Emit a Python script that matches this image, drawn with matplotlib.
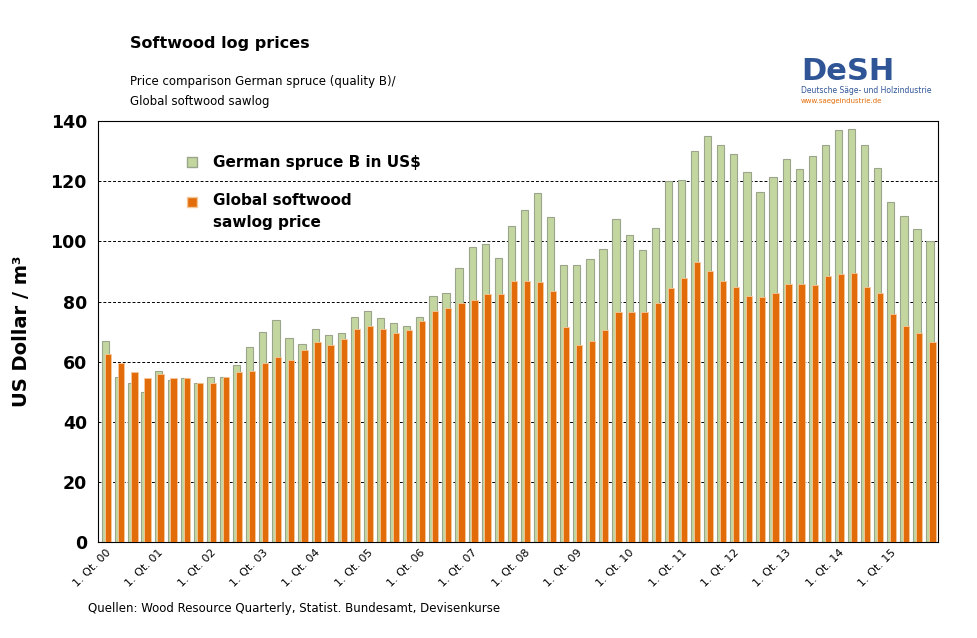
import matplotlib.pyplot as plt
import numpy as np

german = [67, 55, 53, 50, 57, 54, 54.5, 53, 55, 55, 59, 65, 70, 74, 68, 66,
          71, 69, 69.5, 75, 77, 74.5, 73, 72, 75, 82, 83, 91, 98, 99, 94.5, 105,
          110.5, 116, 108, 92, 92, 94, 97.5, 107.5, 102, 97, 104.5, 120, 120.5, 130, 135, 132,
          129, 123, 116.5, 121.5, 127.5, 124, 128.5, 132, 137, 137.5, 132, 124.5, 113, 108.5, 104, 100]
glob = [62.5, 59.5, 56.5, 54.5, 56, 54.5, 54.5, 53, 53, 55, 56.5, 57, 59.5, 61.5, 60.5, 64,
        66.5, 65.5, 67.5, 71, 72, 71, 69.5, 70.5, 73.5, 77, 78, 79.5, 80.5, 82.5, 82.5, 87,
        87, 86.5, 83.5, 71.5, 65.5, 67, 70.5, 76.5, 76.5, 76.5, 79.5, 84.5, 88, 93, 90, 87,
        85, 82, 81.5, 83, 86, 86, 85.5, 88.5, 89, 89.5, 85, 83, 76, 72, 69.5, 66.5]
years = ["00", "01", "02", "03", "04", "05", "06", "07", "08", "09", "10", "11", "12", "13", "14", "15"]

x = np.arange(len(german))
fig = plt.figure(figsize=(9.77, 6.38), dpi=100)
ax = fig.add_axes([0.1003, 0.1505, 0.8597, 0.6595])

ax.bar(x, german, width=0.55, color='#c4d6a0', edgecolor='#9aa58c', linewidth=0.8, zorder=2)
ax.bar(x + 0.18, glob, width=0.48, color='#e36c0a', edgecolor='#f5c89a', linewidth=0.6, zorder=3)

ax.set_ylim(0, 140)
ax.set_xlim(-0.6, len(german) - 0.4)
ax.set_yticks(range(0, 141, 20))
ax.tick_params(axis='y', labelsize=12.5, length=0, pad=8)
for lab in ax.get_yticklabels():
    lab.set_fontweight('bold')
ax.yaxis.grid(True, linestyle=(0, (3, 2)), color='black', linewidth=0.7, zorder=1)
ax.set_xticks(x[::4])
ax.set_xticklabels(["1. Qt. " + y for y in years], rotation=45, ha='right',
                   rotation_mode='anchor', fontsize=8)
ax.tick_params(axis='x', length=0, pad=4)
ax.set_ylabel("US Dollar / m³", fontsize=14, fontweight='bold', labelpad=14)

# legend
ax.scatter([0.112], [0.902], marker='s', s=60, color='#c4d6a0', edgecolors='#9aa58c',
           transform=ax.transAxes, zorder=4)
ax.scatter([0.112], [0.807], marker='s', s=60, color='#e36c0a', edgecolors='#f5c89a',
           transform=ax.transAxes, zorder=4)
ax.text(0.137, 0.902, "German spruce B in US$", fontsize=11, fontweight='bold', va='center',
        transform=ax.transAxes)
ax.text(0.137, 0.83, "Global softwood\nsawlog price", fontsize=11, fontweight='bold', va='top',
        linespacing=1.6, transform=ax.transAxes)

fig.text(0.133, 0.925, "Softwood log prices", fontsize=11.5, fontweight='bold')
fig.text(0.133, 0.835, "Price comparison German spruce (quality B)/\nGlobal softwood sawlog",
         fontsize=8.5, linespacing=1.7)
fig.text(0.09, 0.04, "Quellen: Wood Resource Quarterly, Statist. Bundesamt, Devisenkurse", fontsize=8.5)
fig.text(0.82, 0.875, "DeSH", fontsize=22, fontweight='bold', color='#2f5597')
fig.text(0.82, 0.855, "Deutsche Säge- und Holzindustrie", fontsize=5.5, color='#2f5597')
fig.text(0.82, 0.838, "www.saegeindustrie.de", fontsize=5, color='#e36c0a')

fig.savefig("out.png", dpi=100)
